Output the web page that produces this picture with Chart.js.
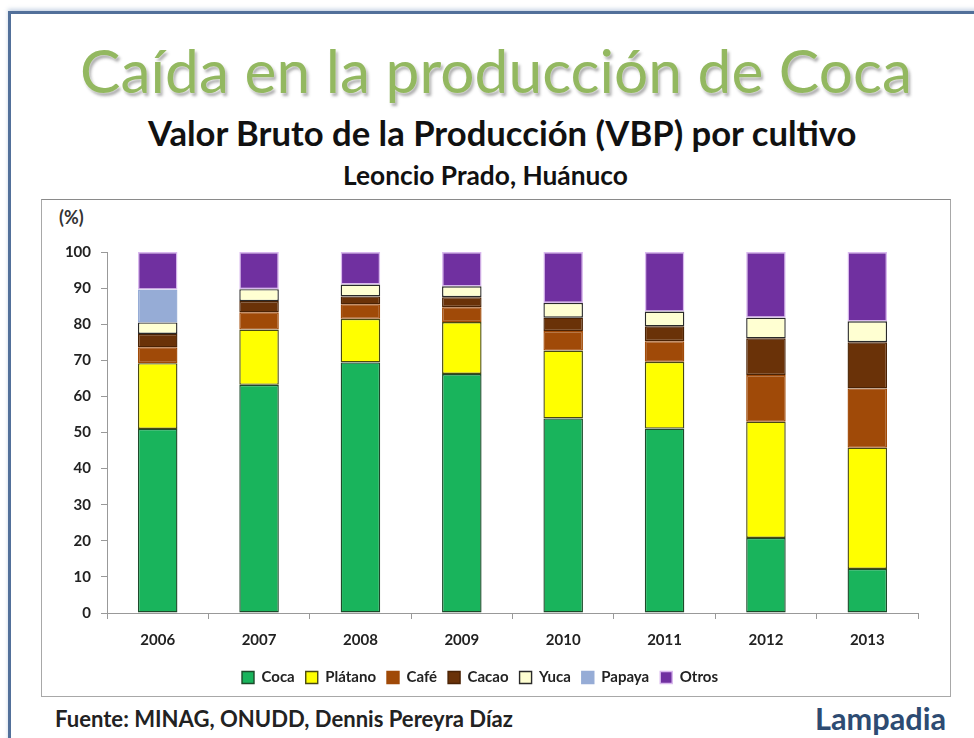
<!DOCTYPE html>
<html>
<head>
<meta charset="utf-8">
<script src="https://cdn.jsdelivr.net/npm/chart.js@4.4.0/dist/chart.umd.min.js"></script>
<style>
  html, body { margin: 0; padding: 0; background: #fff; }
  body { width: 974px; height: 738px; position: relative; overflow: hidden; font-family: Lato, "Open Sans", sans-serif; }
  .frame { position: absolute; left: 8px; top: 11px; width: 1000px; height: 800px; border: 3px solid #52709a; box-shadow: 0 -2px 4px rgba(120,150,190,0.4); }
  .txt { position: absolute; white-space: nowrap; }
  #t1 { top: 33px; color: #93b860; font-weight: 400; text-shadow: 0 0 2px #fff, 2px 3px 3px rgba(70,70,70,0.45); }
  #t2, #t3 { color: #111; font-weight: 700; }
  #t2 { top: 112px; }
  #t3 { top: 159px; }
  .box { position: absolute; left: 41px; top: 199px; width: 908px; height: 496px; border: 1px solid #a8a8a8; border-top-color: #8a8a8a; }
  #pct { left: 59px; top: 206px; font-size: 18px; font-weight: 700; color: #333; }
  #src { left: 55px; top: 705px; font-size: 17px; font-weight: 700; color: #222; }
  #lamp { left: 815px; top: 700px; font-size: 23px; font-weight: 700; color: #2d4b72; }
  canvas { position: absolute; }
</style>
</head>
<body>
<div class="frame"></div>
<div class="txt" id="t1" data-x="80" data-w="832" data-fs="52">Caída en la producción de Coca</div>
<div class="txt" id="t2" data-x="148" data-w="710" data-fs="28">Valor Bruto de la Producción (VBP) por cultivo</div>
<div class="txt" id="t3" data-x="343" data-w="285" data-fs="28">Leoncio Prado, Huánuco</div>
<div class="box"></div>
<div class="txt" id="pct">(%)</div>
<div style="position:absolute;left:42px;top:200px;width:907px;height:495px;">
  <canvas id="chart"></canvas>
</div>
<div class="txt" id="src" data-x="55" data-w="458">Fuente: MINAG, ONUDD, Dennis Pereyra Díaz</div>
<div class="txt" id="lamp" data-x="815" data-w="131">Lampadia</div>

<script>
const years   = ["2006", "2007", "2008", "2009", "2010", "2011", "2012", "2013"];
const coca    = [51.0, 63.2, 69.4, 66.2, 53.9, 51.1, 20.8, 12.2];
const platano = [18.2, 15.3, 12.1, 14.4, 18.8, 18.5, 32.2, 33.6];
const cafe    = [4.4, 4.8, 4.0, 4.1, 5.4, 5.7, 12.9, 16.4];
const cacao   = [3.7, 3.1, 2.2, 2.8, 3.7, 4.1, 10.2, 12.8];
const yuca    = [3.2, 3.3, 3.3, 3.0, 4.1, 4.1, 5.7, 5.8];
const papaya  = [9.1, 0, 0, 0, 0, 0, 0, 0];
const otros   = [10.4, 10.3, 9.0, 9.5, 14.1, 16.5, 18.2, 19.2];

// fit header / footer text to the widths seen in the picture
const mctx = document.createElement("canvas").getContext("2d");
document.querySelectorAll(".txt[data-w]").forEach((el) => {
  const cs = getComputedStyle(el);
  let fs = parseFloat(el.dataset.fs || cs.fontSize);
  mctx.font = `${cs.fontWeight} ${fs}px ${cs.fontFamily}`;
  const w = mctx.measureText(el.textContent).width;
  fs = fs * (+el.dataset.w) / w;
  el.style.fontSize = fs.toFixed(2) + "px";
  el.style.left = el.dataset.x + "px";
});

const mk = (label, data, bg, border) => ({
  label, data,
  backgroundColor: bg,
  borderColor: border,
  borderWidth: 1.4,
  borderSkipped: false,
  barPercentage: 0.39,
  categoryPercentage: 1,
});

const axisFont = { family: "Lato", size: 15, weight: "bold" };

new Chart(document.getElementById("chart"), {
  type: "bar",
  data: {
    labels: years,
    datasets: [
      mk("Coca", coca, "#19b45c", "#1d4a2a"),
      mk("Plátano", platano, "#ffff00", "#4a4a10"),
      mk("Café", cafe, "#a04a08", "#a04a08"),
      mk("Cacao", cacao, "#6a3208", "#4a2204"),
      mk("Yuca", yuca, "#ffffd2", "#2a2a2a"),
      mk("Papaya", papaya, "#96acd6", "#96acd6"),
      mk("Otros", otros, "#7030a0", "#d9b8ee"),
    ],
  },
  options: {
    responsive: true,
    maintainAspectRatio: false,
    animation: false,
    layout: { padding: { top: 52, right: 31, bottom: 0, left: 0 } },
    plugins: {
      legend: {
        position: "bottom",
        labels: {
          boxWidth: 12,
          boxHeight: 12,
          padding: 11,
          color: "#222",
          font: { family: "Lato", size: 15, weight: "bold" },
        },
      },
      tooltip: { enabled: false },
    },
    scales: {
      x: {
        stacked: true,
        grid: { display: true, drawOnChartArea: false, color: "#999", tickLength: 6 },
        border: { color: "#999" },
        ticks: { color: "#222", padding: 12, font: axisFont },
        afterFit: (s) => { s.height = 46; },
      },
      y: {
        stacked: true,
        min: 0,
        max: 100,
        grid: { display: true, drawOnChartArea: false, color: "#999", tickLength: 6 },
        border: { color: "#999" },
        ticks: { stepSize: 10, color: "#222", padding: 10, font: axisFont },
        afterFit: (s) => { s.width = 65; },
      },
    },
  },
});
</script>
</body>
</html>
